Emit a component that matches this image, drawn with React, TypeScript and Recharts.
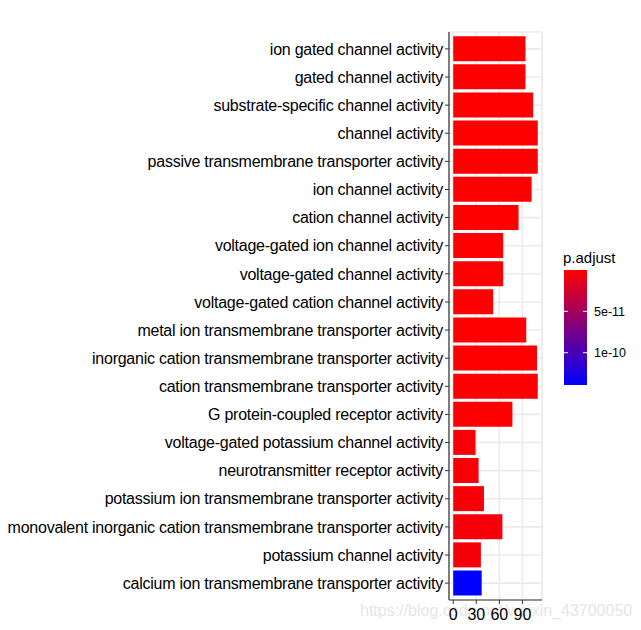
import React from "react";
import {
  Bar,
  BarChart,
  CartesianGrid,
  Cell,
  XAxis,
  YAxis
} from "recharts";

const terms = [
  "ion gated channel activity",
  "gated channel activity",
  "substrate-specific channel activity",
  "channel activity",
  "passive transmembrane transporter activity",
  "ion channel activity",
  "cation channel activity",
  "voltage-gated ion channel activity",
  "voltage-gated channel activity",
  "voltage-gated cation channel activity",
  "metal ion transmembrane transporter activity",
  "inorganic cation transmembrane transporter activity",
  "cation transmembrane transporter activity",
  "G protein-coupled receptor activity",
  "voltage-gated potassium channel activity",
  "neurotransmitter receptor activity",
  "potassium ion transmembrane transporter activity",
  "monovalent inorganic cation transmembrane transporter activity",
  "potassium channel activity",
  "calcium ion transmembrane transporter activity"
];

const counts = [94, 94, 104, 110, 110, 102, 85, 65, 65, 52, 95, 109, 110, 77, 29, 33, 40, 64, 36, 37];

const pAdjust = [
  1e-15, 1e-15, 1e-15, 1e-15, 1e-15, 1e-15, 1e-15, 1e-15, 1e-15, 1e-15,
  1e-15, 1e-15, 1e-15, 1e-15, 3e-12, 3e-12, 4e-12, 5e-12, 6e-12, 1.39e-10
];

const xTicks = [0, 30, 60, 90];
const xMinorTicks = [15, 45, 75, 105];
const legendTicks = [5e-11, 1e-10];

const data = terms.map((term, i) => ({ term, count: counts[i], p: pAdjust[i] }));

const pMin = 0;
const pMax = Math.max(...pAdjust);
const FONT = "Liberation Sans, Arial, sans-serif";
const BORDER = "#333333";

function pColor(p: number) {
  const t = (p - pMin) / (pMax - pMin);
  const r = Math.round(255 * (1 - t));
  const b = Math.round(255 * t);
  return `rgb(${r},0,${b})`;
}

const fmtP = (p: number) => p.toExponential(0);

function ColorBar() {
  const barH = 115;
  return (
    <svg width={90} height={150} style={{ position: "absolute", left: 555, top: 245 }}>
      <defs>
        <linearGradient id="pgrad" x1="0" y1="0" x2="0" y2="1">
          <stop offset="0%" stopColor="#FF0000" />
          <stop offset="100%" stopColor="#0000FF" />
        </linearGradient>
      </defs>
      <text x={8} y={18} fontSize={15} fontFamily={FONT} fill="#000">
        p.adjust
      </text>
      <rect x={9} y={25} width={23} height={barH} fill="url(#pgrad)" />
      {legendTicks.map((v) => {
        const y = 25 + ((v - pMin) / (pMax - pMin)) * barH;
        return (
          <g key={v}>
            <line x1={9} x2={13} y1={y} y2={y} stroke="#fff" strokeWidth={1} />
            <line x1={28} x2={32} y1={y} y2={y} stroke="#fff" strokeWidth={1} />
            <text x={39} y={y} dy="0.36em" fontSize={12.5} fontFamily={FONT} fill="#000">
              {fmtP(v)}
            </text>
          </g>
        );
      })}
    </svg>
  );
}

export default function App() {
  return (
    <div style={{ position: "absolute", left: 0, top: 0, width: 641, height: 630, background: "#fff" }}>
      <div
        style={{
          position: "absolute",
          left: 360,
          top: 602,
          fontFamily: FONT,
          fontSize: 16,
          color: "#E6E6E6",
          whiteSpace: "nowrap"
        }}
      >
        https://blog.csdn.net/weixin_43700050
      </div>
      <div style={{ position: "absolute", left: 0, top: 0 }}>
        <BarChart
          width={641}
          height={630}
          data={data}
          layout="vertical"
          margin={{ top: 32, right: 99, bottom: 0, left: 0 }}
          barCategoryGap="5%"
        >
          <CartesianGrid xAxisId="minor" horizontal={false} stroke="#EBEBEB" strokeWidth={1} />
          <CartesianGrid stroke="#EBEBEB" strokeWidth={1.6} />
          <XAxis xAxisId="minor" type="number" domain={[-5.5, 115.5]} ticks={xMinorTicks} hide />
          <XAxis
            xAxisId="top"
            orientation="top"
            type="number"
            domain={[-5.5, 115.5]}
            height={0}
            tick={false}
            tickLine={false}
            axisLine={{ stroke: BORDER, strokeWidth: 1.2 }}
          />
          <YAxis
            yAxisId="right"
            orientation="right"
            type="number"
            width={0}
            tick={false}
            tickLine={false}
            axisLine={{ stroke: BORDER, strokeWidth: 1.2 }}
          />
          <XAxis
            type="number"
            domain={[-5.5, 115.5]}
            ticks={xTicks}
            allowDataOverflow
            height={30}
            tickSize={4}
            tickMargin={5}
            axisLine={{ stroke: BORDER, strokeWidth: 1.2 }}
            tickLine={{ stroke: BORDER }}
            tick={{ fill: "#000", fontSize: 16, fontFamily: FONT }}
          />
          <YAxis
            type="category"
            dataKey="term"
            width={449}
            padding={{ top: 2.8, bottom: 2.8 }}
            tickSize={4}
            tickMargin={2}
            axisLine={{ stroke: BORDER, strokeWidth: 1.2 }}
            tickLine={{ stroke: BORDER }}
            interval={0}
            tick={{ fill: "#000", fontSize: 16, dy: "0.48em", letterSpacing: -0.25, fontFamily: FONT }}
          />
          <Bar dataKey="count" isAnimationActive={false}>
            {data.map((d) => (
              <Cell key={d.term} fill={pColor(d.p)} />
            ))}
          </Bar>
        </BarChart>
      </div>
      <ColorBar />
    </div>
  );
}
